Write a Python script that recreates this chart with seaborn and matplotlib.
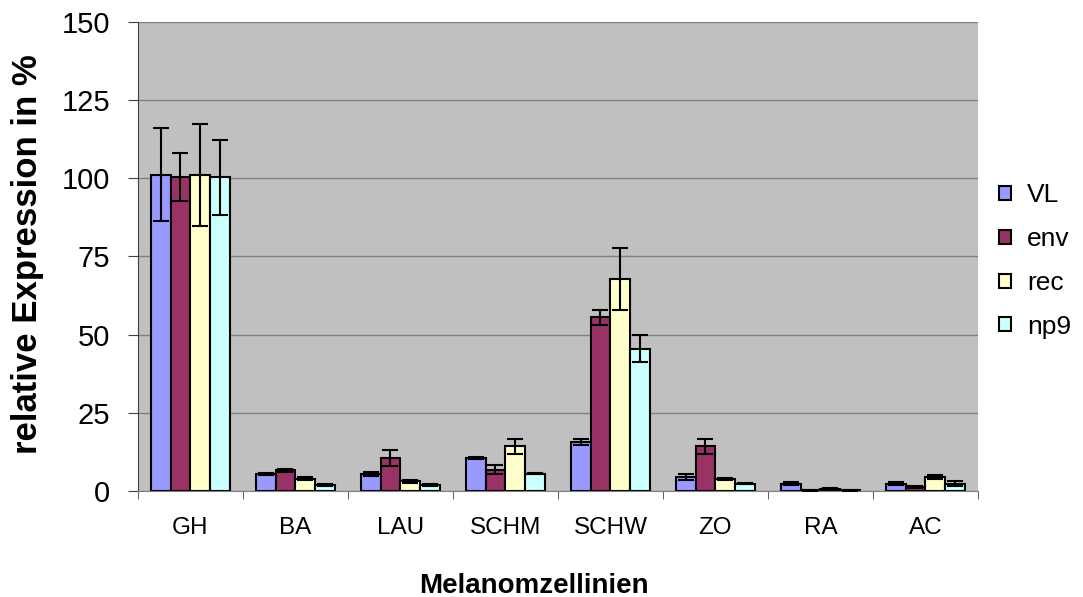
import pandas as pd
import numpy as np
import matplotlib.pyplot as plt
import seaborn as sns

lines = ["GH", "BA", "LAU", "SCHM", "SCHW", "ZO", "RA", "AC"]
series = ["VL", "env", "rec", "np9"]

vl = [101.2, 5.4, 5.4, 10.4, 15.6, 4.3, 2.3, 2.3]
env = [100.4, 6.6, 10.5, 6.7, 55.5, 14.2, 0.1, 1.2]
rec = [101.0, 3.9, 3.0, 14.2, 67.8, 3.7, 0.7, 4.3]
np9 = [100.4, 1.9, 1.8, 5.5, 45.5, 2.3, 0.1, 2.3]

vl_err = [15.0, 0.4, 0.6, 0.3, 1.0, 1.0, 0.4, 0.4]
env_err = [7.7, 0.5, 2.6, 1.4, 2.5, 2.5, 0.1, 0.2]
rec_err = [16.4, 0.4, 0.4, 2.5, 10.0, 0.4, 0.2, 0.6]
np9_err = [12.0, 0.4, 0.2, 0.2, 4.4, 0.3, 0.1, 0.7]

colors = ["#9999FF", "#993366", "#FFFFCC", "#CCFFFF"]

df = pd.DataFrame({
    "Zelllinie": lines * 4,
    "Serie": np.repeat(series, len(lines)),
    "Wert": vl + env + rec + np9,
    "Fehler": vl_err + env_err + rec_err + np9_err,
})

plt.rcParams['font.family'] = ['Liberation Sans', 'DejaVu Sans']

fig = plt.figure(figsize=(10.83, 5.97), dpi=100)
ax = fig.add_axes([0.1274, 0.178, 0.7756, 0.785])
ax.set_facecolor("#C0C0C0")

sns.barplot(data=df, x="Zelllinie", y="Wert", hue="Serie", palette=colors,
            errorbar=None, width=0.76, edgecolor="black", linewidth=1.5,
            saturation=1, ax=ax, zorder=2)

# Fehlerbalken an die Balken der Container setzen
for cont, s in zip(ax.containers, series):
    errs = df[df["Serie"] == s]["Fehler"].values
    xs = [b.get_x() + b.get_width() / 2 for b in cont]
    hs = [b.get_height() for b in cont]
    ax.errorbar(xs, hs, yerr=errs, fmt="none", ecolor="black",
                elinewidth=1.5, capsize=5.5, capthick=1.5, zorder=3)

ax.set_ylim(0, 150)
ax.set_yticks([0, 25, 50, 75, 100, 125, 150])
ax.set_xlim(-0.5, len(lines) - 0.5)
ax.yaxis.grid(True, color="#808080", linewidth=1)
ax.set_axisbelow(True)
for sp in ["top", "right"]:
    ax.spines[sp].set_visible(False)
ax.spines["left"].set_color("#404040")
ax.spines["bottom"].set_color("#808080")

ax.tick_params(axis="y", labelsize=21, length=7, color="#404040", pad=13)
ax.tick_params(axis="x", which="major", labelsize=17.5, length=0, pad=19)
ax.set_xticks(np.arange(len(lines) + 1) - 0.5, minor=True)
ax.tick_params(axis="x", which="minor", length=6, color="#404040")

ax.set_xlabel("Melanomzellinien", fontsize=20, fontweight="bold")
ax.xaxis.set_label_coords(0.471, -0.175)
ax.set_ylabel("relative Expression in %", fontsize=25, fontweight="bold")
ax.yaxis.set_label_coords(-0.112, 0.505)

ax.legend(loc="center left", bbox_to_anchor=(1.0, 0.49), frameon=False,
          fontsize=19, handlelength=0.45, handleheight=0.45, labelspacing=0.75,
          handletextpad=0.6, borderaxespad=0.4)

fig.savefig("out.png", dpi=100)
